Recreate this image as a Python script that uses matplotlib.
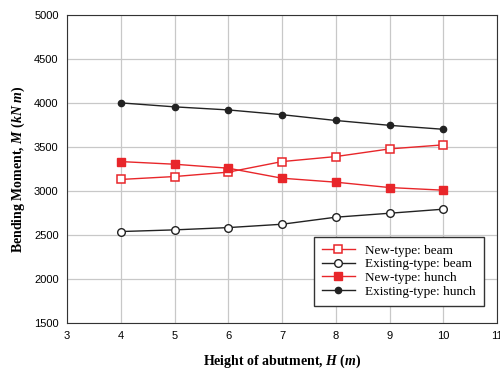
import numpy as np
import matplotlib.pyplot as plt

heights = [4, 5, 6, 7, 8, 9, 10]
new_beam = [3130, 3163, 3213, 3333, 3390, 3477, 3523]
exist_beam = [2538, 2557, 2583, 2621, 2701, 2746, 2792]
new_hunch = [3333, 3303, 3258, 3144, 3099, 3038, 3008]
exist_hunch = [4000, 3955, 3920, 3866, 3800, 3745, 3700]

plt.rcParams['mathtext.fontset'] = 'custom'
plt.rcParams['mathtext.it'] = 'Liberation Serif:italic:bold'
plt.rcParams['mathtext.rm'] = 'Liberation Serif:bold'

fig = plt.figure(figsize=(5, 3.72), dpi=100)
ax = fig.add_axes([0.134, 0.132, 0.86, 0.828])

red = '#e8262a'
ax.plot(heights, new_beam, color=red, lw=1, marker='s', ms=5.5, mfc='white', mec=red, mew=1.1,
        label='New-type: beam')
ax.plot(heights, exist_beam, color='#222222', lw=1, marker='o', ms=5.5, mfc='white', mec='#222222',
        label='Existing-type: beam')
ax.plot(heights, new_hunch, color=red, lw=1, marker='s', ms=5.5, mfc=red, mec=red,
        label='New-type: hunch')
ax.plot(heights, exist_hunch, color='#222222', lw=1, marker='o', ms=4.5, mfc='#222222', mec='#222222',
        label='Existing-type: hunch')

ax.set_xlim(3, 11)
ax.set_ylim(1500, 5000)
ax.set_xticks(range(3, 12))
ax.set_yticks(range(1500, 5001, 500))
ax.grid(True, color='#c8c8c8', lw=0.9)
ax.set_axisbelow(True)
ax.tick_params(direction='in', length=0, labelsize=8, pad=6)
for lab in ax.get_xticklabels() + ax.get_yticklabels():
    lab.set_fontfamily('Liberation Sans')
for s in ax.spines.values():
    s.set_color('#333333')

ax.set_xlabel('Height of abutment, $H$ $(m)$', family='Liberation Serif',
              fontweight='bold', fontsize=10, labelpad=8)
ax.set_ylabel('Bending Moment, $M$ $(kN\\ m)$', family='Liberation Serif',
              fontweight='bold', fontsize=10, labelpad=5)

leg = ax.legend(loc='lower right', bbox_to_anchor=(0.985, 0.035), fancybox=False, edgecolor='#333333',
                framealpha=1, prop={'family': 'Liberation Serif', 'size': 9.5},
                handlelength=2.5, labelspacing=0.1, borderpad=0.6)
leg.get_frame().set_linewidth(1)

fig.savefig('out.png', dpi=100)
